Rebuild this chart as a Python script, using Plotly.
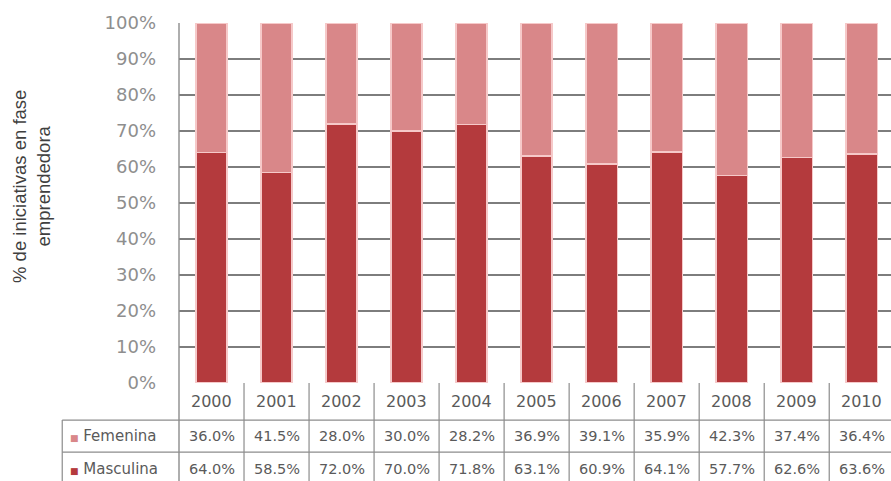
import plotly.graph_objects as go

years = ["2000", "2001", "2002", "2003", "2004", "2005", "2006", "2007", "2008", "2009", "2010"]
femenina = [36.0, 41.5, 28.0, 30.0, 28.2, 36.9, 39.1, 35.9, 42.3, 37.4, 36.4]
masculina = [64.0, 58.5, 72.0, 70.0, 71.8, 63.1, 60.9, 64.1, 57.7, 62.6, 63.6]
series_names = ["Femenina", "Masculina"]
y_ticks = [0, 10, 20, 30, 40, 50, 60, 70, 80, 90, 100]

C_MASC = "#b43a3d"
C_FEM = "#d98789"
EDGE = "#f6c9c9"
GRID = "#7d7d7d"
TABLE_LINE = "#8c8c8c"
TXT = "#5a5a5a"

idx = list(range(len(years)))

fig = go.Figure()
fig.add_trace(go.Bar(x=idx, y=masculina, name="Masculina", marker=dict(color=C_MASC, line=dict(color=EDGE, width=1.5)), width=0.48))
fig.add_trace(go.Bar(x=idx, y=femenina, name="Femenina", marker=dict(color=C_FEM, line=dict(color=EDGE, width=1.5)), width=0.48))

# table geometry (paper coords below plot area)
row_bounds = [0.0, -0.103, -0.192, -0.285]
row_centers = [(row_bounds[i] + row_bounds[i + 1]) / 2 for i in range(3)]
label_left = -0.164

shapes = []
for yb in row_bounds[1:]:
    shapes.append(dict(type="line", xref="paper", yref="paper", x0=label_left, x1=1, y0=yb, y1=yb, line=dict(color=TABLE_LINE, width=1.2)))
shapes.append(dict(type="line", xref="paper", yref="paper", x0=label_left, x1=label_left, y0=row_bounds[1], y1=row_bounds[3], line=dict(color=TABLE_LINE, width=1.2)))
for i in idx:
    shapes.append(dict(type="line", xref="x", yref="paper", x0=i + 0.5, x1=i + 0.5, y0=0, y1=row_bounds[3], line=dict(color=TABLE_LINE, width=1.2)))
shapes.append(dict(type="line", xref="paper", yref="paper", x0=0, x1=0, y0=1, y1=row_bounds[3], line=dict(color=TABLE_LINE, width=1.4)))

annotations = []
for i, yr in enumerate(years):
    for text, rc, fs in [(yr, row_centers[0], 16), (f"{femenina[i]:.1f}%", row_centers[1], 14.5), (f"{masculina[i]:.1f}%", row_centers[2], 14.5)]:
        annotations.append(dict(x=i, y=rc, xref="x", yref="paper", xanchor="center", yanchor="middle", text=text,
                                showarrow=False, font=dict(size=fs, color=TXT, family="DejaVu Sans")))

for name, col, rc in [(series_names[0], C_FEM, row_centers[1]), (series_names[1], C_MASC, row_centers[2])]:
    annotations.append(dict(x=label_left + 0.008, y=rc, xref="paper", yref="paper", xanchor="left", yanchor="middle",
                            text=f"<span style='color:{col};font-size:9px'>■</span> {name}", showarrow=False,
                            font=dict(size=15, color=TXT, family="DejaVu Sans")))

annotations.append(dict(x=-0.208, y=0.547, xref="paper", yref="paper", xanchor="center", yanchor="middle",
                        textangle=-90, showarrow=False,
                        text="% de iniciativas en fase<br>emprendedora", align="center",
                        font=dict(size=18.5, color="#3f3f3f", family="Liberation Sans")))

fig.update_layout(
    width=891, height=481,
    margin=dict(l=179, r=0, t=23, b=98),
    barmode="stack",
    showlegend=False,
    plot_bgcolor="white", paper_bgcolor="white",
    shapes=shapes, annotations=annotations,
    xaxis=dict(range=[-0.5, 10.45], showticklabels=False, showgrid=False, zeroline=False, showline=False, fixedrange=True),
    yaxis=dict(range=[0, 100], tickvals=y_ticks, ticktext=[f"{v}%" for v in y_ticks],
               showgrid=True, gridcolor=GRID, gridwidth=1.5, zeroline=False, showline=False,
               tickfont=dict(size=18, color="#8e8e8e", family="DejaVu Sans"), ticklabelstandoff=22),
)

fig.write_html("out.html")
